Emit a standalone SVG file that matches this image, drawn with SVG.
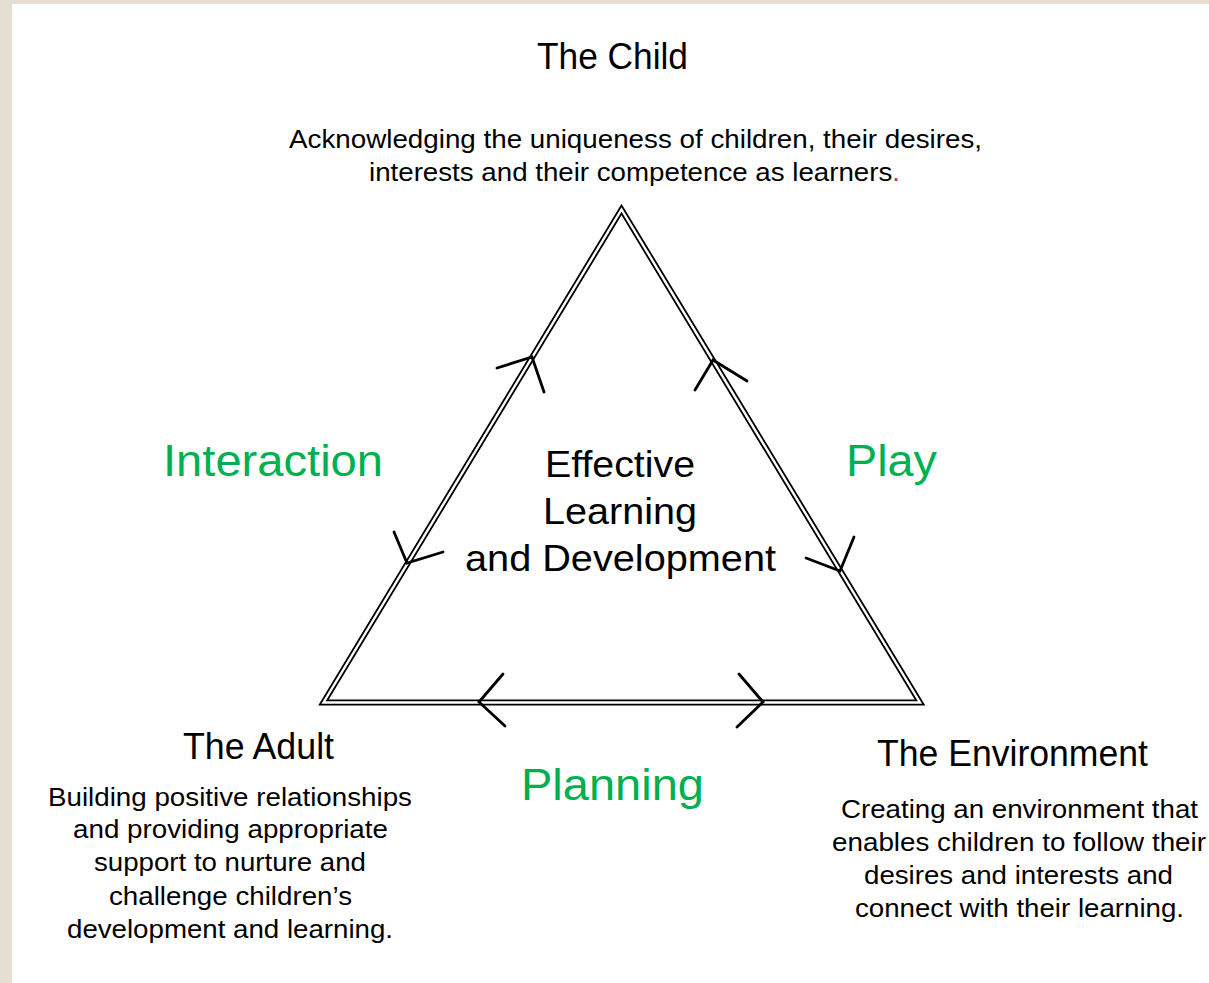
<svg xmlns="http://www.w3.org/2000/svg" width="1209" height="983" viewBox="0 0 1209 983">
  <style>
    .t { font-family: "Liberation Sans", Arial, Helvetica, sans-serif; fill: #000; text-anchor: middle; }
    .head { font-size: 36px; }
    .body { font-size: 25.5px; }
    .mid { font-size: 37px; }
    .link { font-size: 45px; fill: #00b050; }
    .edge-outer { fill: none; stroke: #000; stroke-width: 6; stroke-linejoin: miter; }
    .edge-inner { fill: none; stroke: #fff; stroke-width: 2.4; stroke-linejoin: miter; }
    .head-arrow { fill: none; stroke: #000; stroke-width: 2.8; stroke-linecap: round; stroke-linejoin: miter; }
  </style>

  <!-- page background with the beige frame at the top and left -->
  <rect x="0" y="0" width="1209" height="983" fill="#e4ded3"/>
  <rect x="12" y="4" width="1197" height="979" fill="#fff"/>

  <!-- triangle (double rule) and its direction chevrons -->
  <g id="connectors">
    <path id="triangle" d="M621.5,209.5 L920,702.5 L323.5,702.5 Z" class="edge-outer"/>
    <path d="M621.5,209.5 L920,702.5 L323.5,702.5 Z" class="edge-inner"/>
    <!-- Interaction: child <-> adult -->
    <polyline class="head-arrow" points="497,368 532,357 544,392"/>
    <polyline class="head-arrow" points="394,532 407,563 443,552"/>
    <!-- Play: child <-> environment -->
    <polyline class="head-arrow" points="695,390 713,360 747,381"/>
    <polyline class="head-arrow" points="854,537 840,571 806,558"/>
    <!-- Planning: adult <-> environment -->
    <polyline class="head-arrow" points="503,674 479,702 505,726"/>
    <polyline class="head-arrow" points="739,674 763,702 737,727"/>
  </g>

  <g id="child">
    <text class="t head" x="612.5" y="69" textLength="151" lengthAdjust="spacingAndGlyphs">The Child</text>
    <text class="t body" x="635.5" y="148" textLength="693" lengthAdjust="spacingAndGlyphs">Acknowledging the uniqueness of children, their desires,</text>
    <text class="t body" x="634.5" y="181" textLength="531" lengthAdjust="spacingAndGlyphs">interests and their competence as learners<tspan fill="#e8231e">.</tspan></text>
  </g>

  <g id="centre">
    <text class="t mid" x="620" y="477" textLength="150" lengthAdjust="spacingAndGlyphs">Effective</text>
    <text class="t mid" x="620" y="524" textLength="154" lengthAdjust="spacingAndGlyphs">Learning</text>
    <text class="t mid" x="620.5" y="571" textLength="311" lengthAdjust="spacingAndGlyphs">and Development</text>
  </g>

  <g id="adult">
    <text class="t head" x="258.5" y="759" textLength="151" lengthAdjust="spacingAndGlyphs">The Adult</text>
    <text class="t body" x="230" y="806" textLength="364" lengthAdjust="spacingAndGlyphs">Building positive relationships</text>
    <text class="t body" x="230.5" y="838" textLength="315" lengthAdjust="spacingAndGlyphs">and providing appropriate</text>
    <text class="t body" x="230" y="871" textLength="272" lengthAdjust="spacingAndGlyphs">support to nurture and</text>
    <text class="t body" x="230.5" y="905" textLength="243" lengthAdjust="spacingAndGlyphs">challenge children’s</text>
    <text class="t body" x="230" y="938" textLength="326" lengthAdjust="spacingAndGlyphs">development and learning.</text>
  </g>

  <g id="environment">
    <text class="t head" x="1012.5" y="766" textLength="271" lengthAdjust="spacingAndGlyphs">The Environment</text>
    <text class="t body" x="1019.5" y="818" textLength="357" lengthAdjust="spacingAndGlyphs">Creating an environment that</text>
    <text class="t body" x="1019" y="851" textLength="374" lengthAdjust="spacingAndGlyphs">enables children to follow their</text>
    <text class="t body" x="1018.5" y="884" textLength="309" lengthAdjust="spacingAndGlyphs">desires and interests and</text>
    <text class="t body" x="1019.5" y="917" textLength="329" lengthAdjust="spacingAndGlyphs">connect with their learning.</text>
  </g>

  <g id="interaction">
    <text class="t link" x="273" y="476" textLength="220" lengthAdjust="spacingAndGlyphs">Interaction</text>
  </g>
  <g id="play">
    <text class="t link" x="891.5" y="476" textLength="91" lengthAdjust="spacingAndGlyphs">Play</text>
  </g>
  <g id="planning">
    <text class="t link" x="612.5" y="800" textLength="183" lengthAdjust="spacingAndGlyphs">Planning</text>
  </g>
</svg>
